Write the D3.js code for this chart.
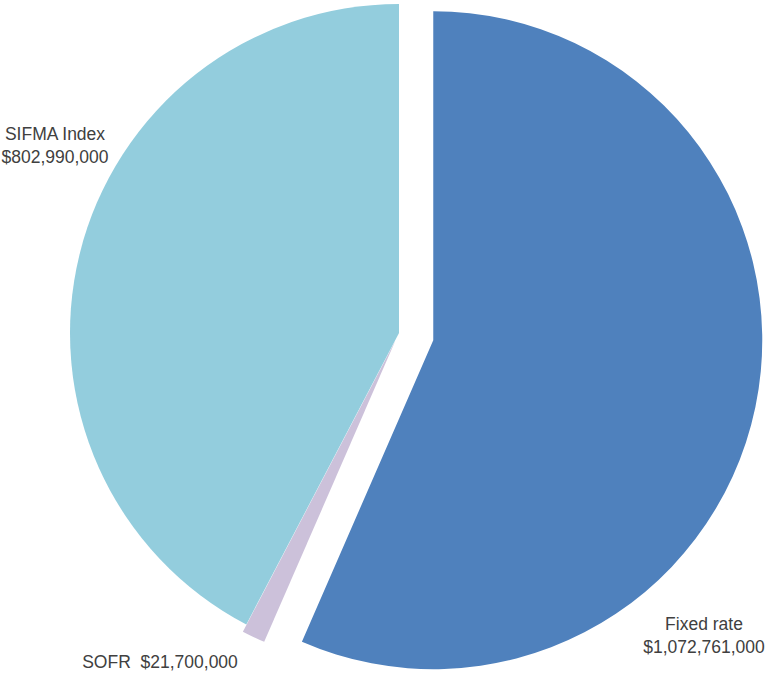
<!DOCTYPE html>
<html>
<head>
<meta charset="utf-8">
<script src="https://cdn.jsdelivr.net/npm/d3@7"></script>
<style>
  html, body { margin: 0; padding: 0; background: #fff; }
  svg { display: block; }
  text { font-family: "Liberation Sans", Arial, sans-serif; fill: #404040; }
</style>
</head>
<body>
<svg id="chart" width="768" height="673"></svg>
<script>
const categories = ["Fixed rate", "SOFR", "SIFMA Index"];
const values = [1072761000, 21700000, 802990000];
const colors = ["#4f81bd", "#ccc1da", "#93cddd"];
const explode = [35, 8, 0];

const width = 768, height = 673;
const cx = 399, cy = 333, radius = 329;

const svg = d3.select("#chart");
const fmt = d3.format("$,");

const pie = d3.pie().sort(null).value(d => d.value).startAngle(0).endAngle(2 * Math.PI);
const data = categories.map((c, i) => ({ name: c, value: values[i], color: colors[i], ex: explode[i] }));
const arcs = pie(data);
const arc = d3.arc().innerRadius(0).outerRadius(radius);

const g = svg.append("g").attr("transform", `translate(${cx},${cy})`);
g.selectAll("path").data(arcs).join("path")
  .attr("d", arc)
  .attr("fill", d => d.data.color)
  .attr("transform", d => {
    const a = (d.startAngle + d.endAngle) / 2;
    return `translate(${Math.sin(a) * d.data.ex},${-Math.cos(a) * d.data.ex})`;
  });

// labels
const fs = 17.5;
const labelPos = {
  "Fixed rate": { x: 704, y: 630, twoLine: true },
  "SIFMA Index": { x: 55, y: 140, twoLine: true },
  "SOFR": { x: 160, y: 667.5, twoLine: false }
};
arcs.forEach(d => {
  const p = labelPos[d.data.name];
  const t = svg.append("text")
    .attr("x", p.x).attr("y", p.y)
    .attr("text-anchor", "middle")
    .attr("font-size", fs)
    .style("white-space", "pre");
  if (p.twoLine) {
    t.append("tspan").attr("x", p.x).attr("dy", 0).text(d.data.name);
    t.append("tspan").attr("x", p.x).attr("dy", 22.5).text(fmt(d.data.value));
  } else {
    t.text(d.data.name + "  " + fmt(d.data.value));
  }
});
</script>
</body>
</html>
